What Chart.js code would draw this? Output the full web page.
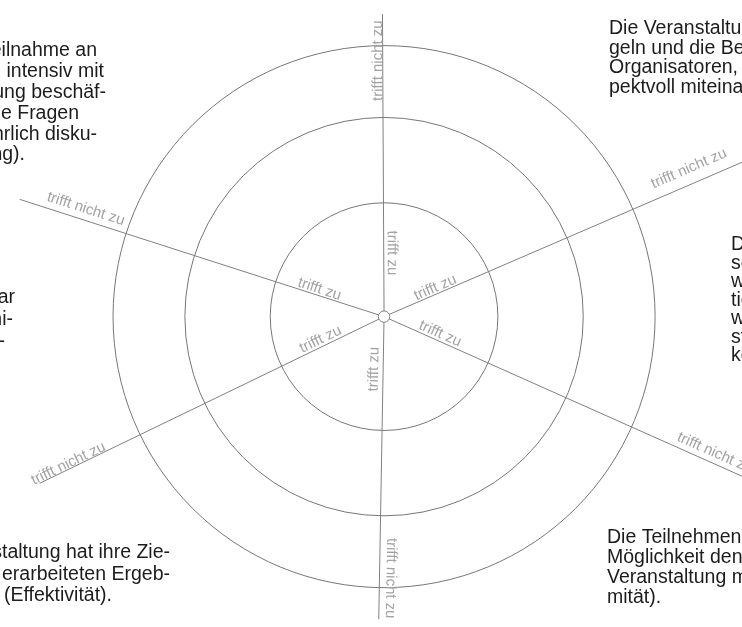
<!DOCTYPE html>
<html><head><meta charset="utf-8">
<script src="https://cdn.jsdelivr.net/npm/chart.js@4.4.1/dist/chart.umd.min.js"></script>
<style>html,body{margin:0;padding:0;background:#fff;overflow:hidden}canvas{display:block}</style>
</head><body>
<canvas id="c" width="742" height="627"></canvas>
<script>
// ---- data ----
// concentric rating rings (outer ring = 1)
const ringLevels = [0.42, 0.735, 1.0];
// the six criterion axes: direction (deg, counter-clockwise from east) and length
const spokeAngles  = [90.3, 23.4, -24.1, -91.0, -154.1, 162.1];
const spokeLengths = [1.12, 1.45, 1.45, 1.12, 1.413, 1.413];
// scale labels on every axis
const innerLabel = "trifft zu";
const outerLabel = "trifft nicht zu";
const innerLabelDist = [0.236, 0.216, 0.215, 0.195, 0.248, 0.258];
const outerLabelDist = [0.948, 1.25, 1.32, 0.968, 1.285, 1.17];
const innerLabelDir  = ['in', 'out', 'out', 'in', 'in', 'in'];
const outerLabelDir  = ['out', 'out', 'out', 'out', 'in', 'in'];
// criterion texts (the page is cropped, so only parts are visible)
const textTopLeft = ["Durch die Teilnahme an", "sich intensiv mit", "der Veranstaltung beschäf-", "tigen und offene Fragen", "ausführlich disku-", "tieren (Beteiligung)."];
const textLeft = ["Die Ziele waren klar", "und offen, die Kommuni-", "kation nachvollzieh-"];
const textBottomLeft = ["Die Veranstaltung hat ihre Zie-", "le mit den erarbeiteten Ergeb-", "nissen erreicht (Effektivität)."];
const textTopRight = ["Die Veranstaltungsre-", "geln und die Beteiligten", "Organisatoren, gingen res-", "pektvoll miteinander um."];
const textRight = ["Die Entscheidungsprozes-", "se der Veranstaltung", "wurden offen und Informa-", "tionen transparent", "weitergegeben und", "stets verständlich", "kommuniziert (Transparenz)."];
const textBottomRight = ["Die Teilnehmenden hatten die", "Möglichkeit den Ablauf der", "Veranstaltung mitzubestimmen (Legiti-", "mität)."];

// ---- layout / style ----
const lineColor = '#808080';
const ringColor = '#767676';
const labelColor = '#a3a3a3';
const textColor = '#1c1c1c';
const innerGap = [4, 2, 3, 5, 3, 2.2];
const outerGap = [0.5, 11, 6, 7, 1, 7];
const blocks = [
  {lines: textTopLeft, align: 'right', xs: [97, 104, 106, 79, 97, 25], ys: [56, 77, 97.5, 118.5, 139.5, 160]},
  {lines: textLeft, align: 'right', xs: [15, 13, 5], ys: [303, 325, 347]},
  {lines: textBottomLeft, align: 'right', xs: [170, 170, 112], ys: [558, 579.5, 601]},
  {lines: textTopRight, align: 'left', xs: [609, 609, 609, 609], ys: [34, 53.5, 73, 92.5]},
  {lines: textRight, align: 'left', xs: [731, 731, 731, 731, 731, 731, 731], ys: [250, 268.5, 287, 305.5, 324, 342.5, 361]},
  {lines: textBottomRight, align: 'left', xs: [607, 607, 607, 607], ys: [543, 563, 583, 603]}
];

const rad = d => d * Math.PI / 180;

const datasets = [];
// hub
datasets.push({data: [{x: 0, y: 0}], pointRadius: 5.7, pointBackgroundColor: '#ffffff', pointBorderColor: lineColor, pointBorderWidth: 1, showLine: false, order: 0});
// spokes
spokeAngles.forEach((a, i) => {
  datasets.push({
    data: [{x: 0, y: 0}, {x: spokeLengths[i] * Math.cos(rad(a)), y: spokeLengths[i] * Math.sin(rad(a))}],
    showLine: true, borderColor: lineColor, borderWidth: 1, pointRadius: 0, order: 2
  });
});
// rings (one point each, radius taken from the scale)
datasets.push({
  data: ringLevels.map(() => ({x: 0, y: 0})),
  showLine: false,
  pointRadius: ctx => {
    const s = ctx.chart.scales.x;
    return s.getPixelForValue(ringLevels[ctx.dataIndex]) - s.getPixelForValue(0);
  },
  pointBackgroundColor: 'rgba(0,0,0,0)', pointBorderColor: ringColor, pointBorderWidth: 1, order: 3
});

const textPlugin = {
  id: 'texts',
  afterDatasetsDraw(chart) {
    const {ctx} = chart;
    const x = chart.scales.x, y = chart.scales.y;
    ctx.save();
    ctx.fillStyle = labelColor;
    ctx.font = '15px "Liberation Sans", Arial, sans-serif';
    ctx.textAlign = 'center';
    ctx.textBaseline = 'alphabetic';
    spokeAngles.forEach((a, i) => {
      [[innerLabel, innerLabelDist[i], innerGap[i], innerLabelDir[i]],
       [outerLabel, outerLabelDist[i], outerGap[i], outerLabelDir[i]]].forEach(([t, d, g, dir]) => {
        const px = x.getPixelForValue(d * Math.cos(rad(a)));
        const py = y.getPixelForValue(d * Math.sin(rad(a)));
        let phi = Math.atan2(-Math.sin(rad(a)), Math.cos(rad(a)));
        if (dir === 'in') phi += Math.PI;
        ctx.save();
        ctx.translate(px, py);
        ctx.rotate(phi);
        ctx.fillText(t, 0, -g);
        ctx.restore();
      });
    });
    ctx.fillStyle = textColor;
    ctx.font = '19.5px "Liberation Sans", Arial, sans-serif';
    blocks.forEach(b => {
      ctx.textAlign = b.align;
      b.lines.forEach((l, j) => ctx.fillText(l, b.xs[j], b.ys[j]));
    });
    ctx.restore();
  }
};

new Chart(document.getElementById('c'), {
  type: 'scatter',
  data: {datasets},
  options: {
    responsive: false,
    animation: false,
    events: [],
    layout: {padding: 0},
    plugins: {legend: {display: false}, tooltip: {enabled: false}, title: {display: false}},
    scales: {
      x: {type: 'linear', min: -1.3924, max: 1.2960, display: false},
      y: {type: 'linear', min: -1.1243, max: 1.1475, display: false}
    },
    datasets: {scatter: {clip: false}}
  },
  plugins: [textPlugin]
});
</script>
</body></html>
